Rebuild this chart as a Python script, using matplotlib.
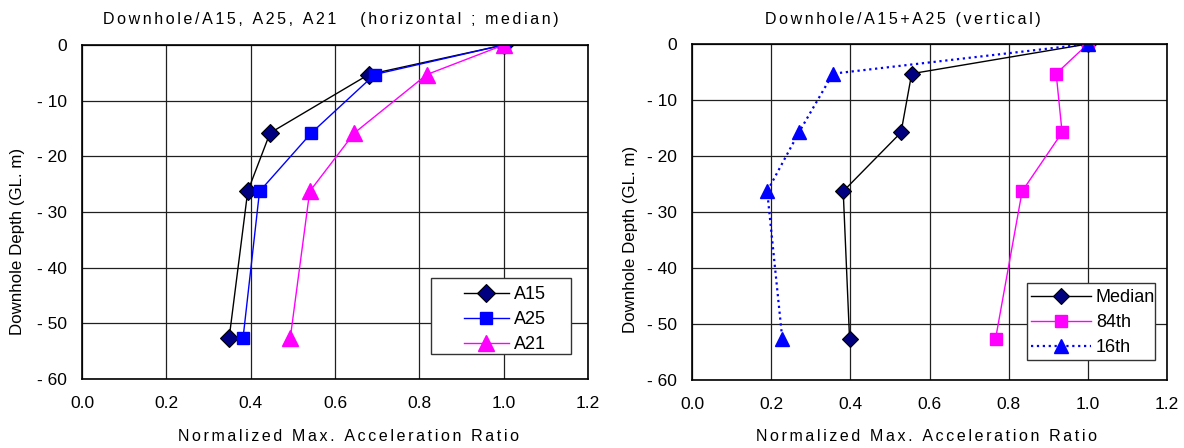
import matplotlib
matplotlib.use("Agg")
import matplotlib.pyplot as plt
from matplotlib.patches import Rectangle

plt.rcParams['font.family'] = ['Liberation Sans', 'DejaVu Sans']

# ---------------- data ----------------
depth = [0, -5.3, -15.8, -26.3, -52.6]

a15 = [1.0, 0.680, 0.446, 0.393, 0.349]
a25 = [1.0, 0.694, 0.544, 0.421, 0.382]
a21 = [1.0, 0.818, 0.646, 0.540, 0.494]

median = [1.0, 0.555, 0.528, 0.382, 0.398]
p84 = [1.0, 0.920, 0.935, 0.834, 0.767]
p16 = [1.0, 0.356, 0.270, 0.190, 0.228]

xticks = [0.0, 0.2, 0.4, 0.6, 0.8, 1.0, 1.2]
xticklabels = ['0.0', '0.2', '0.4', '0.6', '0.8', '1.0', '1.2']
yticks = [0, -10, -20, -30, -40, -50, -60]
yticklabels = ['0', '- 10', '- 20', '- 30', '- 40', '- 50', '- 60']

title_left = 'Downhole/A15, A25, A21   (horizontal ; median)'
title_right = 'Downhole/A15+A25 (vertical)'
xlabel = 'Normalized Max. Acceleration Ratio'
ylabel = 'Downhole Depth (GL. m)'

# ---------------- figure ----------------
W, H = 1184, 448
fig = plt.figure(figsize=(W / 100, H / 100), dpi=100)


def px_axes(l, t, r, b):
    return fig.add_axes([l / W, 1 - b / H, (r - l) / W, (b - t) / H])


def spaced(s):
    return '\u2006'.join(s)


def style_axes(ax, title, tx, ty, xl, xly, yl_x, yl_y):
    ax.set_xlim(0, 1.2)
    ax.set_ylim(-60, 0)
    ax.set_xticks(xticks)
    ax.set_xticklabels(xticklabels)
    ax.set_yticks(yticks)
    ax.set_yticklabels(yticklabels)
    ax.tick_params(axis='both', length=0, labelsize=12.5, colors='black')
    ax.tick_params(axis='x', pad=12)
    ax.tick_params(axis='y', pad=11)
    ax.grid(True, color='#202020', linewidth=0.9)
    ax.set_axisbelow(True)
    for sp in ax.spines.values():
        sp.set_color('black')
        sp.set_linewidth(1.2)
    ax.set_title(spaced(title), fontsize=11.5, x=tx, y=ty, va='center', pad=0)
    ax.set_xlabel(spaced(xlabel), fontsize=11.5, va='center')
    ax.xaxis.set_label_coords(xl, xly)
    ax.set_ylabel(ylabel, fontsize=12.2, va='center')
    ax.yaxis.set_label_coords(yl_x, yl_y)


# ---------------- left chart ----------------
ax1 = px_axes(82, 45, 588, 379)
ax1.plot(a15, depth, color='black', lw=1.0, marker='D', ms=9,
         mfc='#000080', mec='black', mew=0.8, label='A15')
ax1.plot(a25, depth, color='#0000FF', lw=1.0, marker='s', ms=9,
         mfc='#0000FF', mec='#0000FF', label='A25')
ax1.plot(a21, depth, color='#FF00FF', lw=1.0, marker='^', ms=11,
         mfc='#FF00FF', mec='#FF00FF', label='A21')
style_axes(ax1, title_left, 0.492, 1.075, 0.526, -0.171, -0.128, 0.413)

ax1.legend(loc='upper left', bbox_to_anchor=(464 / W, 1 - 286 / H),
           bbox_transform=fig.transFigure, frameon=False, borderpad=0,
           borderaxespad=0, handlelength=2.47, handletextpad=0.29,
           labelspacing=0.45, prop={'size': 13})
ax1.add_patch(Rectangle((431 / W, 1 - 354 / H), 140 / W, 76 / H,
                        transform=fig.transFigure, facecolor='white',
                        edgecolor='#333333', lw=1.0, zorder=4.5, clip_on=False))

# ---------------- right chart ----------------
ax2 = px_axes(692, 44, 1167, 380)
ax2.plot(median, depth, color='black', lw=1.0, marker='D', ms=8.5,
         mfc='#000080', mec='black', mew=0.8, label='Median')
ax2.plot(p84, depth, color='#FF00FF', lw=1.0, marker='s', ms=9,
         mfc='#FF00FF', mec='#FF00FF', label='84th')
ax2.plot(p16, depth, color='#0000FF', lw=1.6, ls=':', marker='^', ms=10.5,
         mfc='#0000FF', mec='#0000FF', label='16th')
style_axes(ax2, title_right, 0.444, 1.073, 0.494, -0.167, -0.1305, 0.417)

ax2.legend(loc='upper left', bbox_to_anchor=(1031 / W, 1 - 289 / H),
           bbox_transform=fig.transFigure, frameon=False, borderpad=0,
           borderaxespad=0, handlelength=3.3, handletextpad=0.29,
           labelspacing=0.45, prop={'size': 13})
ax2.add_patch(Rectangle((1027 / W, 1 - 360 / H), 128 / W, 77 / H,
                        transform=fig.transFigure, facecolor='white',
                        edgecolor='#333333', lw=1.0, zorder=4.5, clip_on=False))

fig.savefig('out.png', dpi=100)
